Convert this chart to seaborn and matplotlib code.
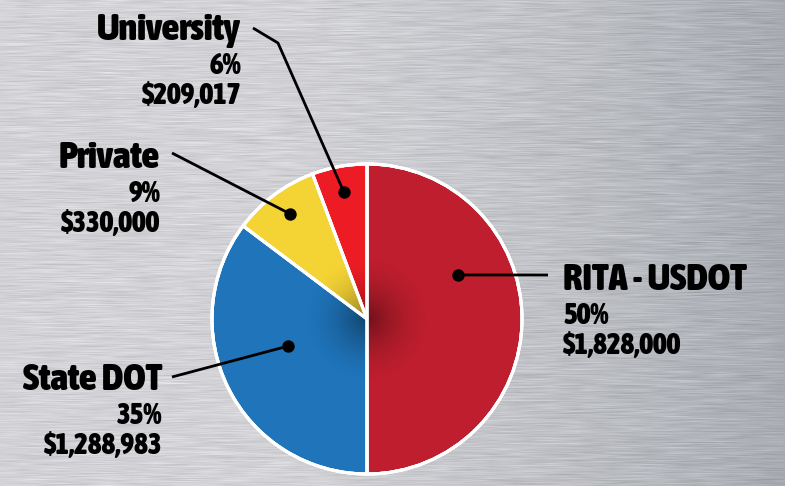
import numpy as np
import pandas as pd
import matplotlib
matplotlib.use("Agg")
import matplotlib.pyplot as plt
import seaborn as sns
from matplotlib import font_manager as fm
from matplotlib.colors import to_rgb
from matplotlib.patches import Wedge

# ---- data ----
categories = ["RITA - USDOT", "State DOT", "Private", "University"]
amounts = [1828000, 1288983, 330000, 209017]
percent_labels = ["50%", "35%", "9%", "6%"]
amount_labels = ["$1,828,000", "$1,288,983", "$330,000", "$209,017"]
colors = ["#BE1E2D", "#1F74BA", "#F4D335", "#ED1C24"]

df = pd.DataFrame({"category": categories, "amount": amounts,
                   "pct": percent_labels, "amt": amount_labels, "color": colors})

sns.set_theme(style="white")
plt.rcParams["font.family"] = ["DejaVu Sans"]


def pick_font():
    best, best_score = None, -1e9
    for f in fm.fontManager.ttflist:
        name = (f.name + " " + f.fname).lower()
        if not f.fname.lower().endswith((".ttf", ".otf")):
            continue
        if "mono" in name or "serif" in name and "sans" not in name or "cjk" in name:
            continue
        if "italic" in name or "oblique" in name or f.style != "normal":
            continue
        w = f.weight if isinstance(f.weight, int) else {"bold": 700, "normal": 400, "black": 900,
                                                       "heavy": 900, "extra bold": 800,
                                                       "semibold": 600}.get(str(f.weight), 400)
        cond = ("condensed" in name or "narrow" in name or
                str(f.stretch) in ("condensed", "semi-condensed", "extra-condensed", "ultra-condensed")
                or (isinstance(f.stretch, int) and f.stretch < 500))
        if "semicondensed" in name.replace("-", "").replace(" ", ""):
            cond_bonus = 60
        elif cond:
            cond_bonus = 100
        else:
            cond_bonus = 0
        score = cond_bonus + (w - 400) / 5.0
        if w < 600:
            score -= 100
        if score > best_score:
            best, best_score = f.fname, score
    return fm.FontProperties(fname=best) if best else fm.FontProperties(family="DejaVu Sans", weight="bold")


FP = pick_font()

W, H = 785, 486
fig = plt.figure(figsize=(W / 100, H / 100), dpi=100)
ax = fig.add_axes([0, 0, 1, 1])

# brushed-metal style background (decoration only)
rng = np.random.default_rng(3)
xs = np.linspace(0, 1, W)
base_l = np.array(to_rgb("#d3d3d7"))
base_r = np.array(to_rgb("#a8acb2"))
t = np.clip((xs - 0.3) / 0.7, 0, 1) ** 1.4
grad = base_l[None, :] * (1 - t[:, None]) + base_r[None, :] * t[:, None]
img = np.repeat(grad[None, :, :], H, axis=0)
streak = rng.normal(0, 1, (H, W // 12 + 2))
streak = np.repeat(streak, 12, axis=1)[:, :W]
k = np.ones(25) / 25
streak = np.apply_along_axis(lambda r: np.convolve(r, k, mode="same"), 1, streak)
img = np.clip(img + streak[:, :, None] * 0.035, 0, 1)
ax.imshow(img, extent=[0, W, 0, H], origin="upper", zorder=0, aspect="auto")

# pie
cx, cy, R = 367, 167, 155
wedges, _ = ax.pie(df["amount"], colors=df["color"], startangle=90, counterclock=False,
                   center=(cx, cy), radius=R, frame=True,
                   wedgeprops=dict(edgecolor="white", linewidth=2.2))
for w in wedges:
    w.set_zorder(2)

# soft shading toward the pie centre
n = 241
gx, gy = np.meshgrid(np.linspace(-1, 1, n), np.linspace(-1, 1, n))
rr = np.sqrt(gx ** 2 + gy ** 2)
shade = np.zeros((n, n, 4))
shade[..., 3] = np.clip(1 - rr, 0, 1) ** 1.8 * 0.42
sr = 65
sh = ax.imshow(shade, extent=[cx - sr, cx + sr, cy - sr, cy + sr], zorder=2.5,
               interpolation="bilinear")
sh.set_clip_path(plt.Circle((cx, cy), R, transform=ax.transData))

ax.add_patch(plt.Circle((cx, cy), R, fill=False, ec="white", lw=2.2, zorder=3))
for w in wedges:
    ax.add_patch(Wedge((cx, cy), R, w.theta1, w.theta2, fill=False,
                       ec="white", lw=2.2, zorder=3))
ax.set_xlim(0, W)
ax.set_ylim(0, H)
ax.set_aspect("equal")
ax.axis("off")

# leader dots: placed inside each wedge (fraction along its arc, fraction of radius)
dot_angle_frac = [0.644, 0.44, 0.48, 0.5]
dot_radius_frac = [0.65, 0.54, 0.84, 0.83]
dots = []
for w, fa, fr in zip(wedges, dot_angle_frac, dot_radius_frac):
    a = np.deg2rad(w.theta1 + fa * (w.theta2 - w.theta1))
    dots.append((cx + fr * R * np.cos(a), cy + fr * R * np.sin(a)))


def yy(v):
    return H - v


# label layout (image coordinates): anchor x, title y, align, leader path
layout = {
    "RITA - USDOT": dict(x=563, y=280, ha="left", path=[(548, 275)]),
    "State DOT": dict(x=162, y=380, ha="right", path=[(172, 377)]),
    "Private": dict(x=160, y=158, ha="right", path=[(172, 153)]),
    "University": dict(x=241, y=30, ha="right", path=[(253, 28), (278, 43)]),
}

renderer = fig.canvas.get_renderer()


def fit_size(text, target_px, start=20):
    tt = ax.text(0, 0, text, fontproperties=FP, fontsize=start)
    wpx = tt.get_window_extent(renderer).width
    tt.remove()
    return start * target_px / wpx


title_size = min(fit_size("RITA - USDOT", 189), 27.5)
sub_size = min(fit_size("$1,288,983", 129), 21)

for i, row in df.iterrows():
    L = layout[row["category"]]
    ax.text(L["x"], yy(L["y"]), row["category"], ha=L["ha"], va="center",
            fontproperties=FP, fontsize=title_size, color="black", zorder=5)
    ax.text(L["x"], yy(L["y"] + 36), row["pct"], ha=L["ha"], va="center",
            fontproperties=FP, fontsize=sub_size, color="black", zorder=5)
    ax.text(L["x"], yy(L["y"] + 66), row["amt"], ha=L["ha"], va="center",
            fontproperties=FP, fontsize=sub_size, color="black", zorder=5)
    pts = [(px, yy(py)) for px, py in L["path"]] + [dots[i]]
    ax.plot([p[0] for p in pts], [p[1] for p in pts], color="black", lw=2, zorder=4,
            solid_capstyle="butt")
    ax.scatter([dots[i][0]], [dots[i][1]], s=80, color="black", zorder=6, linewidths=0)

fig.savefig("out.png", dpi=100)
